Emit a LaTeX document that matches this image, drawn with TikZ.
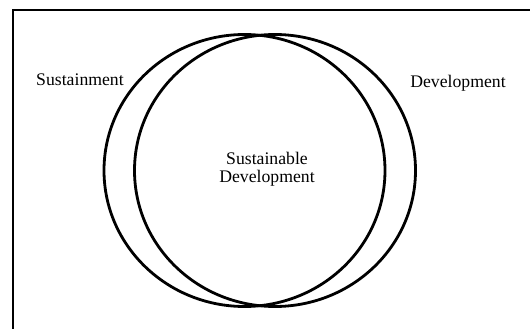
\documentclass[tikz,border=0pt]{standalone}
\usepackage{fontspec}
\setmainfont{Liberation Serif}
\begin{document}
\begin{tikzpicture}[x=1pt,y=-1pt,
  ring/.style={draw=black,line width=2.8pt},
  lbl/.style={anchor=base,inner sep=0pt,font=\fontsize{17.7pt}{18pt}\selectfont},
  frame/.style={draw=black,line width=2pt}]
\useasboundingbox (0,0) rectangle (530,329);
\fill[white] (0,0) rectangle (530,329);
\draw[frame] (13,330) -- (13,10) -- (531,10);
\draw[ring] (244.5,170.5) ellipse [x radius=140.5, y radius=136];
\draw[ring] (275,170.5) ellipse [x radius=140.5, y radius=136];
\node[lbl] (sus) at (80,85) {Sustainment};
\node[lbl] (dev) at (458,88) {Development};
\node[lbl] (sd1) at (267,164) {Sustainable};
\node[lbl] (sd2) at (267,182.7) {Development};
\end{tikzpicture}
\end{document}
